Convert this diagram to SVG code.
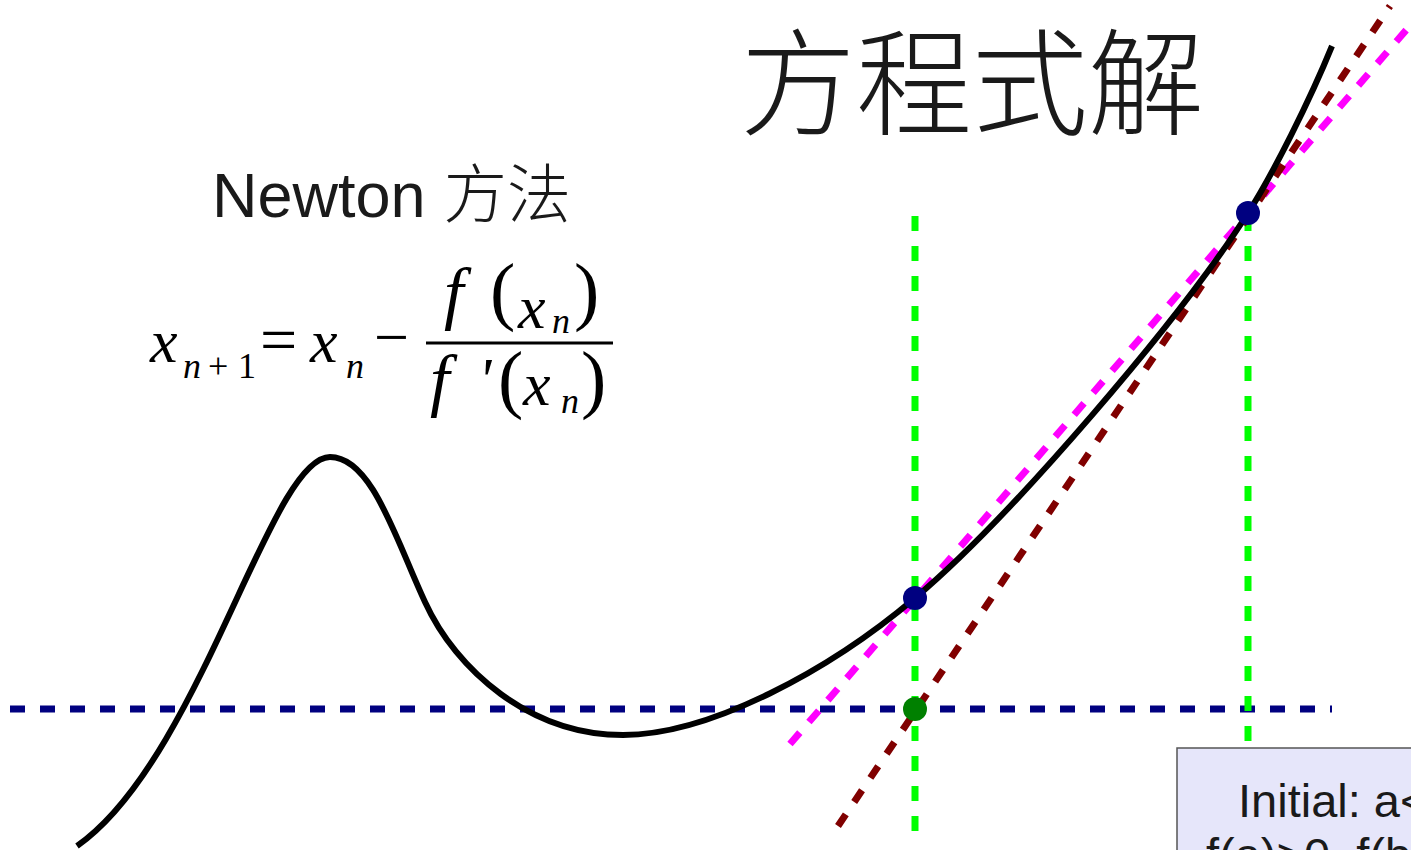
<svg xmlns="http://www.w3.org/2000/svg" width="1411" height="850" viewBox="0 0 1411 850">
<style>
.curve{fill:none;stroke:#000;stroke-width:6;stroke-linecap:butt}
.axis{fill:none;stroke:#000080;stroke-width:7;stroke-dasharray:15 15}
.vg{fill:none;stroke:#00ff00;stroke-width:7;stroke-dasharray:15 15}
.sec{fill:none;stroke:#ff00ff;stroke-width:7;stroke-dasharray:15 14}
.tan{fill:none;stroke:#800000;stroke-width:7;stroke-dasharray:14 15}
.m{font-family:"Liberation Serif","Times New Roman",serif;fill:#000}
.i{font-style:italic}
.sans{font-family:"Liberation Sans","Noto Sans CJK SC",sans-serif;fill:#1a1a1a}
.cjk{font-family:"Noto Sans CJK SC","Noto Sans CJK JP",sans-serif;fill:#1a1a1a;font-weight:300}
</style>
<rect width="1411" height="850" fill="#fff"/>
<g id="title"><text class="cjk" x="740" y="126" font-size="116">方程式解</text></g>
<g id="label"><text class="sans" x="212" y="217" font-size="63">Newton <tspan font-family="Noto Sans CJK SC,sans-serif" font-weight="300" font-size="64">方法</tspan></text></g>
<g id="formula">
<text class="m i" x="150" y="362" font-size="62">x</text>
<text class="m i" x="183" y="378" font-size="36">n</text>
<text class="m" x="208" y="378" font-size="36">+</text>
<text class="m" x="238" y="378" font-size="36">1</text>
<text class="m" x="260" y="362" font-size="66">=</text>
<text class="m i" x="310" y="362" font-size="62">x</text>
<text class="m i" x="346" y="378" font-size="36">n</text>
<text class="m" x="374" y="358" font-size="62">−</text>
<line x1="426" y1="343" x2="613" y2="343" stroke="#000" stroke-width="3"/>
<text class="m i" x="444" y="316" font-size="70">f</text>
<text class="m" x="490" y="316" font-size="76">(</text>
<text class="m i" x="518" y="328" font-size="62">x</text>
<text class="m i" x="552" y="333" font-size="36">n</text>
<text class="m" x="574" y="316" font-size="76">)</text>
<text class="m i" x="430" y="403" font-size="70">f</text>
<text class="m i" x="478" y="400" font-size="62">'</text>
<text class="m" x="498" y="404" font-size="76">(</text>
<text class="m i" x="523" y="405" font-size="62">x</text>
<text class="m i" x="561" y="413" font-size="36">n</text>
<text class="m" x="581" y="404" font-size="76">)</text>
</g>
<g id="connectors">
<line class="axis" x1="10" y1="709" x2="1332" y2="709"/>
<line class="vg" x1="915" y1="216" x2="915" y2="840"/>
<line class="vg" x1="1248" y1="216" x2="1248" y2="750"/>
<line class="sec" x1="790" y1="744" x2="1420" y2="14"/>
<line class="tan" x1="838" y1="826" x2="1390" y2="6"/>
</g>
<g id="curve">
<path class="curve" d="M77,846 C200,760 270,457 330,457 C372,457 396,540 425,602 C456,670 530,735 623,735 C710,735 830,670 915,598 C1010,518 1180,320 1248,213 C1273,174 1310,100 1332,46"/>
</g>
<g id="points">
<circle cx="915" cy="598" r="12" fill="#000080"/>
<circle cx="1248" cy="213" r="12" fill="#000080"/>
<circle cx="915" cy="709" r="12" fill="#008000"/>
</g>
<g id="infobox">
<rect x="1177" y="748" width="260" height="140" fill="#e6e6fa" stroke="#555" stroke-width="1.5"/>
<text class="sans" x="1238" y="817" font-size="47" fill="#222">Initial: a&lt;</text>
<text class="sans" x="1206" y="871" font-size="47" fill="#222">f(a)&gt;0, f(b</text>
</g>
</svg>
